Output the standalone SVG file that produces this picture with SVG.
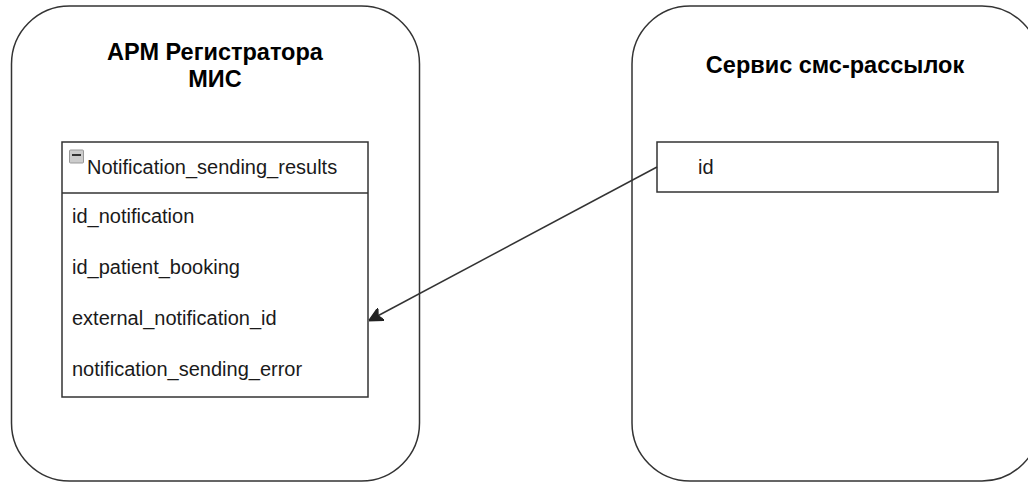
<svg xmlns="http://www.w3.org/2000/svg" width="1028" height="484" viewBox="0 0 1028 484">
<style>
.cont{fill:#fff;stroke:#333;stroke-width:1.5}
.box{fill:#fff;stroke:#333;stroke-width:1.5}
.title{font-family:"Liberation Sans",Arial,sans-serif;font-size:23.5px;font-weight:bold;fill:#000;text-anchor:middle}
.t{font-family:"Liberation Sans",Arial,sans-serif;font-size:20px;fill:#1a1a1a}
.conn{stroke:#333;stroke-width:1.5;fill:none}
</style>
<defs>
<marker id="arr" viewBox="0 0 10 10" refX="9" refY="5" markerWidth="14" markerHeight="14" markerUnits="userSpaceOnUse" orient="auto">
<path d="M0,0 L10,5 L0,10 L2.5,5 Z" fill="#222" stroke="#222"/>
</marker>
</defs>
<g id="arm">
<rect class="cont" x="11.5" y="6" width="408" height="475" rx="58" ry="58"/>
<text class="title" x="215" y="60">АРМ Регистратора</text>
<text class="title" x="215" y="87">МИС</text>
</g>
<g id="sms">
<rect class="cont" x="632" y="6" width="408" height="475" rx="58" ry="58"/>
<text class="title" x="835" y="73">Сервис смс-рассылок</text>
</g>
<g id="table">
<rect class="box" x="62" y="142" width="306" height="255"/>
<line class="conn" x1="62" y1="193" x2="368" y2="193"/>
<rect x="69.5" y="150" width="14" height="13" rx="1" fill="#ccc" stroke="#999" stroke-width="1"/>
<line x1="72" y1="155" x2="81" y2="155" stroke="#333" stroke-width="2"/>
<text class="t" x="87" y="174">Notification_sending_results</text>
<text class="t" x="72" y="223">id_notification</text>
<text class="t" x="72" y="274">id_patient_booking</text>
<text class="t" x="72" y="325">external_notification_id</text>
<text class="t" x="72" y="376">notification_sending_error</text>
</g>
<g id="idbox">
<rect class="box" x="657" y="142" width="341" height="50"/>
<text class="t" x="698" y="174">id</text>
</g>
<g id="connectors">
<line class="conn" x1="657" y1="167" x2="370" y2="320" marker-end="url(#arr)"/>
</g>
</svg>
